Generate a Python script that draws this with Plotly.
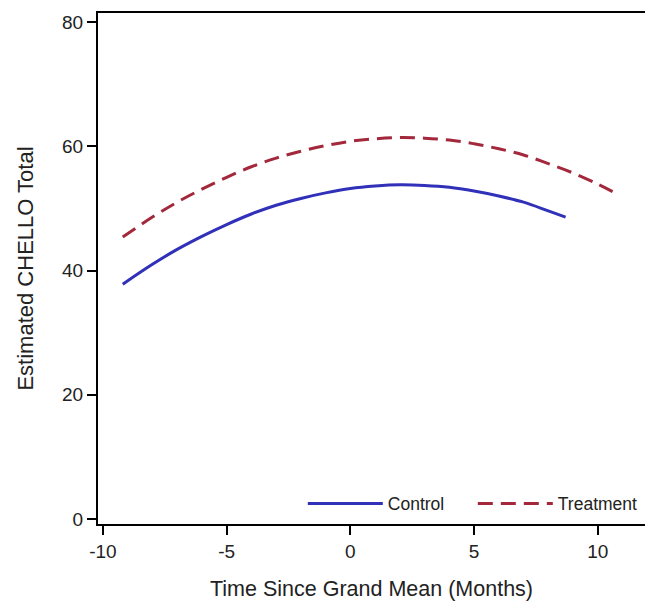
import plotly.graph_objects as go

# Estimated CHELLO totals over time (months relative to the grand mean)
control_time = [-9.2, -8, -7, -6, -5, -4, -3, -2, -1, 0, 1, 2, 3, 4, 5, 6, 7, 8, 8.7]
control_total = [37.8, 41.0, 43.4, 45.5, 47.4, 49.1, 50.5, 51.6, 52.5, 53.2,
                 53.6, 53.8, 53.7, 53.4, 52.8, 52.0, 51.0, 49.6, 48.6]

treatment_time = [-9.2, -8, -7, -6, -5, -4, -3, -2, -1, 0, 1, 2, 3, 4, 5, 6, 7, 8, 9, 10, 10.6]
treatment_total = [45.4, 48.6, 51.0, 53.1, 55.0, 56.7, 58.1, 59.2, 60.1, 60.8, 61.2,
                   61.4, 61.3, 61.0, 60.4, 59.6, 58.6, 57.2, 55.7, 53.9, 52.7]

x_ticks = [-10, -5, 0, 5, 10]
y_ticks = [0, 20, 40, 60, 80]

FONT = "Liberation Sans, Arial, sans-serif"
TEXT = "#222222"

fig = go.Figure()
fig.add_trace(go.Scatter(
    x=control_time, y=control_total, mode="lines", name="Control",
    line=dict(color="#3030B8", width=3, shape="spline"),
))
fig.add_trace(go.Scatter(
    x=treatment_time, y=treatment_total, mode="lines", name="Treatment",
    line=dict(color="#A3283C", width=3, shape="spline", dash="15px,8px"),
))

fig.update_layout(
    width=645, height=603,
    margin=dict(l=98, r=0, t=13, b=79),
    paper_bgcolor="white", plot_bgcolor="white",
    font=dict(family=FONT, color=TEXT),
    showlegend=True,
    legend=dict(
        orientation="h", x=0.996, xanchor="right", y=0.04, yanchor="middle",
        font=dict(size=17.5, family=FONT, color=TEXT),
        itemwidth=75, entrywidth=80, bgcolor="rgba(0,0,0,0)",
    ),
    xaxis=dict(
        range=[-10.2, 11.91], tickvals=x_ticks, ticktext=[str(v) for v in x_ticks],
        showgrid=False, zeroline=False, showline=True, linecolor="black", linewidth=2,
        mirror=True, ticks="outside", ticklen=9, tickwidth=1.5, tickcolor="black",
        tickfont=dict(size=19, family=FONT, color=TEXT),
        title=dict(text="Time Since Grand Mean (Months)",
                   font=dict(size=21.5, family=FONT, color=TEXT), standoff=20),
    ),
    yaxis=dict(
        range=[-0.8, 81.45], tickvals=y_ticks, ticktext=[str(v) for v in y_ticks],
        showgrid=False, zeroline=False, showline=True, linecolor="black", linewidth=2,
        ticks="outside", ticklen=9, tickwidth=1.5, tickcolor="black",
        tickfont=dict(size=19, family=FONT, color=TEXT),
        title=dict(text="Estimated CHELLO Total",
                   font=dict(size=22, family=FONT, color=TEXT), standoff=22),
    ),
)

fig.write_html("out.html")
